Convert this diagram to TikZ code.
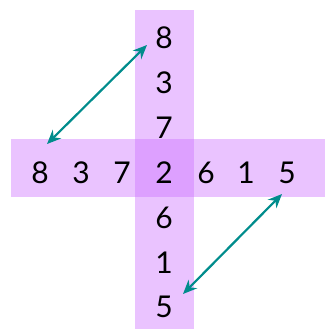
\documentclass[tikz,border=0pt]{standalone}
\usepackage{fontspec}
\setmainfont{Lato}
\usetikzlibrary{arrows.meta}
\definecolor{strip}{RGB}{234,195,255}
\definecolor{mid}{RGB}{221,160,255}
\definecolor{teal2}{RGB}{0,140,140}
\tikzset{
  digit/.style={font=\fontsize{30}{30}\selectfont, inner sep=0pt, anchor=center},
  link/.style={teal2, line width=2.2pt, {Stealth[length=14pt,width=12pt]}-{Stealth[length=14pt,width=12pt]}}
}
\begin{document}
\begin{tikzpicture}[x=1pt,y=-1pt]
\useasboundingbox (0,0) rectangle (325,329);
\fill[strip] (135,10) rectangle (194,329);
\fill[strip] (11,139) rectangle (325,197);
\fill[mid] (135,139) rectangle (194,197);
% vertical
\node[digit] (v1) at (164,38) {8};
\node[digit] (v2) at (164,83) {3};
\node[digit] (v3) at (164,128) {7};
\node[digit] (c) at (164,173) {2};
\node[digit] (v5) at (164,218) {6};
\node[digit] (v6) at (164,263) {1};
\node[digit] (v7) at (164,307) {5};
% horizontal
\node[digit] (h1) at (40,173) {8};
\node[digit] (h2) at (81,173) {3};
\node[digit] (h3) at (122,173) {7};
\node[digit] (h5) at (206,173) {6};
\node[digit] (h6) at (246,173) {1};
\node[digit] (h7) at (287,173) {5};
\coordinate (a1) at (47,144);
\coordinate (a2) at (147,45);
\coordinate (b1) at (282,194);
\coordinate (b2) at (183,294);
\draw[link] (a1) -- (a2);
\draw[link] (b1) -- (b2);
\end{tikzpicture}
\end{document}
